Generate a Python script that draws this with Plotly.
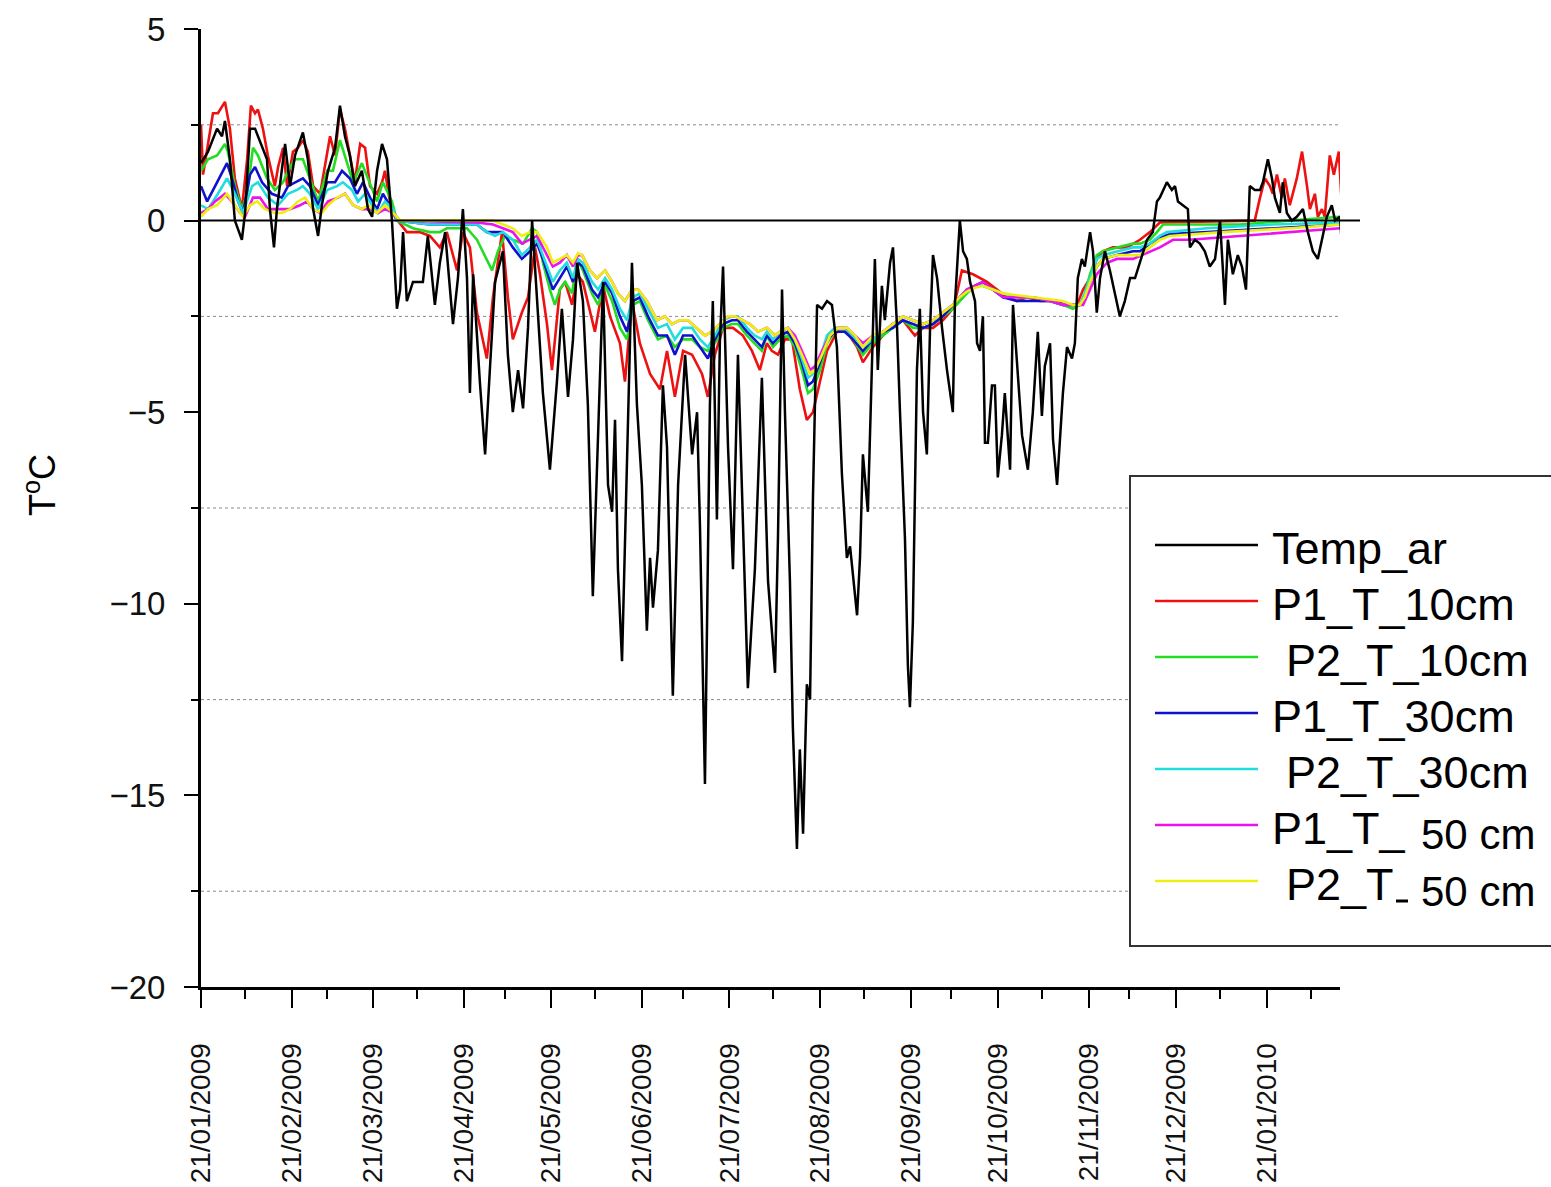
import pandas as pd
import plotly.graph_objects as go

START = pd.Timestamp("2009-01-21")

# ---- Air temperature (day offset from 21/01/2009, degC) ----
AIR_DAYS = [0, 2.4, 5.5, 7.2, 8.2, 9.9, 11.6, 14.0, 15.1, 16.8, 18.5, 20.9, 22.6, 23.6, 25.0, 26.0,
            27.7, 28.8, 30.5, 32.2, 34.9, 36.6, 38.4, 40.1, 41.4, 43.5, 45.9, 47.6, 49.3, 51.0, 52.7,
            55.1, 57.2, 58.6, 60.3, 62.0, 63.7, 65.4, 67.1, 68.2, 69.2, 70.5, 72.6, 76.0, 77.7, 80.1,
            81.8, 83.6, 86.3, 88.0, 89.7, 91.1, 92.1, 93.2, 95.5, 97.3, 99.0, 100.7, 103.4, 105.1,
            106.8, 108.6, 110.3, 112.0, 113.4, 115.1, 117.1, 119.5, 121.9, 123.6, 125.7, 127.4, 128.8,
            130.8, 132.5, 134.2, 136.0, 137.7, 139.4, 140.8, 141.8, 142.8, 144.2, 145.9, 147.6, 149.3,
            151.0, 152.7, 153.8, 154.8, 156.5, 158.2, 159.6, 161.6, 163.4, 165.8, 168.2, 169.9, 170.9,
            172.6, 174.3, 175.3, 176.7, 177.7, 178.8, 180.5, 182.2, 183.9, 185.6, 187.3, 189.7, 192.1,
            194.2, 196.6, 197.6, 199.0, 200.0, 201.7, 202.7, 204.1, 205.1, 206.2, 207.5, 208.6, 209.6,
            211.0, 212.7, 214.4, 216.1, 217.8, 219.5, 221.2, 222.3, 224.7, 225.7, 226.7, 228.4, 229.8,
            230.8, 231.8, 233.2, 234.2, 236.0, 237.0, 238.4, 239.4, 241.1, 242.1, 242.8, 243.8, 245.2,
            246.2, 247.3, 248.6, 249.7, 250.7, 252.1, 253.8, 255.5, 257.5, 258.2, 259.9, 261.0, 262.3,
            263.4, 265.1, 265.8, 266.8, 267.8, 268.5, 269.5, 270.9, 271.9, 272.9, 274.3, 275.3, 277.1,
            278.1, 279.5, 281.2, 283.2, 284.9, 286.6, 288.0, 289.0, 290.8, 291.8, 293.2, 294.2, 295.2,
            296.6, 298.3, 299.3, 300.3, 301.7, 302.7, 304.5, 305.5, 306.8, 307.9, 309.6, 311.3, 313.0,
            314.7, 316.4, 318.2, 319.9, 321.6, 324.0, 326.0, 327.4, 328.4, 330.8, 332.5, 333.6, 334.6,
            336.3, 338.0, 338.7, 340.4, 342.1, 343.8, 345.5, 347.3, 349.0, 350.7, 351.7, 353.4, 355.1,
            356.5, 357.9, 359.2, 360.9, 362.7, 363.7, 365.4, 366.8, 367.8, 369.5, 370.5, 371.9, 373.6,
            375.3, 377.4, 379.1, 380.8, 382.5, 383.9, 385.6, 387.3, 388.4, 390.1, 390.8]
TEMP_AR = [1.5, 1.8, 2.4, 2.2, 2.6, 1.6, 0.0, -0.5, 0.2, 2.4, 2.4, 1.9, 1.6, 0.3, -0.7, 0.3,
           1.3, 2.0, 0.9, 1.7, 2.3, 1.6, 0.3, -0.4, 0.4, 1.3, 1.9, 3.0, 2.2, 1.7, 0.9,
           1.3, 0.3, 0.1, 1.3, 2.0, 1.6, 0.0, -2.3, -1.8, -0.3, -2.1, -1.6, -1.6, -0.4, -2.2,
           -1.1, -0.3, -2.7, -1.5, 0.3, -1.5, -4.5, -1.4, -4.2, -6.1, -3.8, -1.6, -0.8, -3.5,
           -5.0, -3.9, -4.9, -2.8, 0.0, -2.0, -4.5, -6.5, -4.2, -2.3, -4.6, -3.1, -1.1,
           -2.1, -4.8, -9.8, -5.3, -1.6, -6.9, -7.6, -5.2, -9.1, -11.5, -5.9, -1.1, -4.8,
           -6.9, -10.7, -8.8, -10.1, -8.6, -4.3, -5.9, -12.4, -6.9, -3.5, -6.1, -5.0, -8.0,
           -14.7, -4.8, -2.1, -7.8, -3.2, -1.2, -5.9, -9.1, -3.5, -8.0, -12.2, -9.1, -4.1,
           -9.4, -11.8, -8.3, -1.8, -5.0, -9.4, -13.2, -16.4, -13.8, -16.0, -12.1, -12.5, -7.2,
           -2.2, -2.3, -2.1, -2.2, -3.3, -6.6, -8.8, -8.5, -10.3, -8.8, -6.1, -7.6, -3.9,
           -1.0, -3.9, -1.7, -2.6, -1.1, -0.7, -2.8, -5.0, -8.3, -11.6, -12.7, -10.5, -3.9,
           -2.3, -5.0, -6.1, -2.8, -0.9, -1.5, -2.8, -3.9, -5.0, -2.2, 0.0, -0.8, -1.0,
           -1.6, -2.1, -3.2, -3.4, -2.5, -5.8, -5.8, -4.3, -4.3, -6.7, -5.6, -4.5, -6.5,
           -2.2, -3.8, -5.6, -6.5, -5.0, -2.9, -5.1, -3.8, -3.2, -5.7, -6.9, -5.7, -4.5,
           -3.3, -3.6, -3.2, -1.5, -1.0, -1.2, -0.3, -0.8, -2.4, -1.5, -0.8, -1.3, -1.9,
           -2.5, -2.1, -1.5, -1.5, -1.1, -0.5, -0.3, 0.5, 0.6, 1.0, 0.8, 0.9, 0.5,
           0.4, 0.3, -0.7, -0.5, -0.6, -0.8, -1.2, -1.0, 0.0, -2.2, -0.5, -1.4, -0.9,
           -1.2, -1.8, 0.9, 0.8, 0.8, 1.0, 1.6, 1.1, 0.6, 0.2, 1.0, 0.2, 0.0,
           0.1, 0.3, -0.3, -0.8, -1.0, -0.5, 0.1, 0.4, 0.0, 0.1, -0.7]

# ---- Profile 1, 10 cm ----
P1_10_DAYS = [0, 0.7, 2.4, 4.1, 5.8, 8.2, 9.9, 11.6, 14.0, 15.8, 17.1, 18.5, 19.5, 21.2, 22.9, 25.3,
              26.4, 28.1, 29.5, 31.5, 33.2, 34.9, 36.6, 38.4, 40.8, 43.2, 44.2, 45.9, 47.6, 49.3,
              51.0, 52.7, 54.5, 56.2, 57.9, 60.3, 62.0, 63.0, 64.7, 66.4, 70.5, 74.9, 78.4, 81.8,
              84.2, 87.7, 89.7, 92.1, 94.5, 97.9, 100.0, 103.1, 105.1, 106.8, 109.9, 112.0, 114.4,
              116.1, 118.5, 120.2, 122.9, 124.7, 127.1, 128.8, 130.8, 134.9, 137.7, 140.1, 143.5,
              145.2, 147.6, 150.3, 153.8, 157.2, 159.6, 162.3, 165.1, 168.2, 171.6, 173.6, 176.0,
              178.8, 182.2, 185.6, 188.7, 191.4, 193.8, 195.5, 197.6, 200.0, 202.4, 205.1, 207.5,
              209.6, 212.0, 214.4, 217.8, 221.2, 224.7, 226.7, 230.1, 233.6, 237.0, 240.4, 244.5,
              247.3, 250.7, 254.1, 257.5, 258.9, 260.6, 264.4, 269.2, 272.6, 276.0, 279.5, 282.9,
              287.3, 291.8, 296.6, 300.0, 302.1, 304.5, 306.8, 308.9, 312.3, 317.1, 321.6, 325.0,
              328.4, 344.5, 360.9, 362.7, 364.4, 366.1, 367.1, 368.5, 370.2, 371.2, 372.9, 375.3,
              377.1, 378.8, 379.8, 381.5, 382.5, 383.9, 384.9, 386.6, 388.0, 389.7, 390.8]
P1_T_10 = [2.5, 1.2, 2.0, 2.8, 2.8, 3.1, 2.4, 1.1, 0.3, 1.6, 3.0, 2.8, 2.9, 2.4, 1.7, 0.9,
           1.4, 1.9, 0.9, 1.8, 1.9, 2.1, 1.8, 0.9, 0.7, 1.7, 2.2, 1.7, 2.9, 2.4,
           1.7, 1.0, 2.0, 1.9, 0.9, 0.7, 1.0, 1.3, 0.5, 0.1, -0.3, -0.3, -0.4, -0.7,
           -0.3, -1.3, -0.3, -0.7, -2.4, -3.6, -2.0, -0.3, -2.0, -3.1, -2.4, -2.0, -0.7,
           -1.4, -2.7, -3.9, -1.8, -1.6, -2.2, -1.4, -1.6, -2.9, -1.7, -2.5, -3.2,
           -4.2, -2.1, -3.2, -4.0, -4.4, -3.4, -4.6, -3.4, -3.5, -4.0, -4.6, -3.5,
           -2.8, -2.8, -3.0, -3.4, -3.9, -3.2, -3.4, -3.5, -3.1, -3.1, -4.4, -5.2,
           -5.0, -4.2, -3.4, -2.9, -2.9, -3.3, -3.7, -3.3, -3.0, -2.7, -2.6, -3.0,
           -2.8, -2.8, -2.6, -2.3, -1.9, -1.3, -1.4, -1.6, -1.8, -2.0, -2.1, -2.0,
           -2.1, -2.1, -2.2, -2.2, -1.8, -1.5, -1.0, -0.8, -0.7, -0.7, -0.5, -0.3,
           -0.05, -0.02, 0.0, 0.6, 1.1, 0.9, 0.7, 1.2, 0.6, 1.1, 0.4, 1.1,
           1.8, 0.9, 0.3, 0.7, 0.1, 0.3, 0.1, 1.7, 1.2, 1.8, 0.3]

# ---- Profile 2, 10 cm ----
P2_10_DAYS = [0, 2.4, 5.5, 8.2, 9.2, 11.6, 14.0, 15.8, 17.8, 19.5, 22.6, 25.3, 28.1, 29.8, 32.2,
              34.9, 37.3, 40.1, 43.2, 45.2, 47.6, 49.3, 52.1, 55.1, 57.2, 60.3, 62.3, 65.4, 67.1,
              72.6, 78.4, 81.8, 84.2, 87.7, 91.1, 94.5, 97.9, 99.7, 101.7, 104.1, 106.8, 110.3,
              113.4, 115.1, 117.1, 119.5, 121.2, 122.9, 124.7, 127.1, 128.8, 130.8, 133.9, 136.0,
              138.4, 140.8, 143.5, 145.9, 147.9, 150.3, 153.1, 156.5, 159.6, 162.3, 165.1, 168.2,
              170.9, 173.6, 176.0, 178.8, 181.8, 183.9, 187.0, 189.7, 192.1, 193.8, 195.9, 198.3,
              201.0, 203.4, 205.8, 207.9, 209.6, 212.0, 214.4, 217.1, 220.5, 223.3, 226.7, 230.1,
              233.6, 237.0, 240.4, 243.8, 247.3, 250.7, 254.1, 257.5, 259.9, 262.3, 265.1, 267.8,
              271.2, 274.7, 279.5, 284.9, 290.8, 295.2, 298.6, 301.0, 302.7, 304.5, 306.8, 308.9,
              313.7, 319.2, 321.6, 325.0, 327.4, 329.5, 338.7, 355.8, 372.9, 390.1]
P2_T_10 = [1.3, 1.6, 1.7, 2.0, 1.8, 0.9, 0.3, 0.7, 1.9, 1.7, 1.1, 0.8, 1.0, 1.3, 1.6,
           1.6, 1.1, 0.5, 1.3, 1.3, 2.1, 1.7, 1.0, 1.5, 1.1, 0.5, 1.0, 0.5, 0.0,
           -0.2, -0.3, -0.3, -0.2, -0.2, -0.2, -0.5, -1.0, -1.3, -0.8, -0.4, -0.5, -0.6,
           -0.2, -0.3, -1.1, -1.8, -2.2, -1.8, -1.6, -1.9, -1.0, -1.3, -1.9, -2.2,
           -1.7, -2.1, -2.8, -3.1, -2.2, -2.1, -2.6, -3.1, -3.0, -3.3, -3.1, -3.1,
           -3.3, -3.4, -3.2, -2.8, -2.7, -2.7, -3.0, -3.2, -3.4, -3.0, -3.3, -3.1,
           -3.0, -3.3, -3.9, -4.5, -4.4, -3.9, -3.2, -2.9, -2.9, -3.1, -3.5, -3.2,
           -3.0, -2.8, -2.6, -2.8, -2.8, -2.7, -2.5, -2.3, -2.1, -1.9, -1.7, -1.7,
           -1.8, -2.0, -2.0, -2.0, -2.1, -2.2, -2.3, -2.2, -1.9, -1.4, -0.9, -0.8,
           -0.7, -0.6, -0.6, -0.5, -0.3, -0.1, -0.1, -0.1, 0.0, 0.1]

# ---- Profile 1, 30 cm ----
P1_30_DAYS = [0, 2.1, 5.5, 8.9, 10.6, 12.7, 14.4, 16.8, 18.5, 20.9, 24.3, 27.7, 29.8, 32.2, 34.9,
              37.3, 40.1, 43.2, 45.9, 48.3, 51.0, 53.4, 55.5, 57.9, 60.3, 62.3, 65.4, 67.1, 78.4,
              91.1, 94.5, 97.9, 101.4, 103.4, 106.8, 109.9, 112.7, 115.1, 117.1, 120.5, 122.9,
              125.3, 127.4, 129.1, 130.8, 133.9, 136.0, 138.4, 140.8, 143.5, 145.9, 147.9, 150.3,
              153.1, 156.5, 159.6, 162.3, 165.1, 168.2, 170.9, 173.6, 176.0, 178.8, 181.8, 183.9,
              187.0, 189.7, 192.1, 193.8, 195.9, 198.3, 201.0, 203.4, 205.8, 207.9, 209.6, 212.0,
              214.4, 217.1, 220.5, 223.3, 226.7, 230.1, 233.6, 237.0, 240.4, 243.8, 247.3, 250.7,
              254.1, 257.5, 259.9, 262.3, 265.1, 267.8, 271.2, 274.7, 279.5, 284.9, 290.8, 295.2,
              298.6, 301.0, 302.7, 304.5, 306.8, 308.9, 313.7, 319.2, 321.6, 325.0, 328.4, 331.8,
              344.5, 367.1, 390.1]
P1_T_30 = [0.9, 0.5, 1.0, 1.5, 1.1, 0.5, 0.2, 1.2, 1.4, 1.0, 0.7, 0.6, 0.9, 1.0, 1.1,
           0.9, 0.4, 1.0, 1.0, 1.3, 1.1, 0.7, 1.0, 0.6, 0.3, 0.7, 0.3, 0.0, -0.1,
           -0.1, -0.1, -0.3, -0.3, -0.3, -0.7, -1.0, -0.8, -0.6, -1.0, -1.8, -1.5,
           -1.2, -1.6, -1.1, -1.2, -1.8, -2.0, -1.6, -1.9, -2.5, -2.9, -2.1, -2.0,
           -2.5, -3.0, -3.0, -3.5, -3.0, -3.0, -3.3, -3.6, -3.1, -2.7, -2.6, -2.6,
           -2.9, -3.1, -3.3, -3.0, -3.2, -3.0, -2.9, -3.2, -3.7, -4.3, -4.2, -3.7,
           -3.1, -2.9, -2.9, -3.1, -3.4, -3.1, -2.9, -2.8, -2.6, -2.7, -2.8, -2.7,
           -2.5, -2.2, -2.0, -1.8, -1.7, -1.6, -1.8, -2.0, -2.1, -2.1, -2.1, -2.2,
           -2.2, -2.2, -2.0, -1.6, -1.2, -1.0, -0.9, -0.8, -0.8, -0.6, -0.45, -0.35,
           -0.3, -0.2, -0.1]

# ---- Profile 2, 30 cm ----
P2_30_DAYS = [0, 2.4, 5.8, 8.9, 11.6, 14.4, 17.5, 19.5, 22.9, 26.4, 29.8, 32.9, 34.9, 37.3, 40.1,
              43.2, 46.6, 48.6, 51.7, 53.8, 56.2, 58.6, 60.6, 63.0, 65.8, 67.1, 78.4, 94.5, 97.9,
              100.7, 103.4, 106.8, 109.9, 112.7, 115.1, 117.1, 120.5, 122.9, 125.3, 127.4, 129.1,
              130.8, 133.9, 136.0, 138.4, 140.8, 143.5, 145.9, 147.9, 150.3, 153.1, 156.5, 159.6,
              162.3, 165.1, 168.2, 170.9, 173.6, 176.0, 178.8, 181.8, 183.9, 187.0, 189.7, 192.1,
              193.8, 195.9, 198.3, 201.0, 203.4, 205.8, 207.9, 209.6, 212.0, 214.4, 217.1, 220.5,
              223.3, 226.7, 230.1, 233.6, 237.0, 240.4, 243.8, 247.3, 250.7, 254.1, 257.5, 259.9,
              262.3, 265.1, 267.8, 271.2, 274.7, 279.5, 284.9, 290.8, 295.2, 298.6, 301.0, 302.7,
              304.5, 306.8, 308.9, 313.7, 319.2, 321.6, 325.0, 328.4, 330.8, 344.5, 367.1, 390.1]
P2_T_30 = [0.4, 0.3, 0.7, 1.1, 0.7, 0.2, 0.9, 1.0, 0.6, 0.4, 0.7, 0.8, 0.9, 0.7, 0.3,
           0.8, 0.9, 1.0, 0.8, 0.5, 0.7, 0.4, 0.2, 0.5, 0.3, 0.0, -0.1, -0.1, -0.3,
           -0.4, -0.3, -0.5, -0.9, -0.7, -0.5, -0.9, -1.6, -1.3, -1.1, -1.5, -1.0,
           -1.1, -1.6, -1.8, -1.5, -1.8, -2.3, -2.6, -2.0, -1.9, -2.3, -2.8, -2.7,
           -3.1, -2.8, -2.8, -3.1, -3.3, -3.0, -2.6, -2.5, -2.5, -2.8, -3.0, -3.1,
           -2.9, -3.1, -2.9, -2.8, -3.1, -3.6, -4.1, -4.0, -3.6, -3.0, -2.8, -2.8,
           -3.0, -3.3, -3.1, -2.9, -2.7, -2.5, -2.6, -2.7, -2.6, -2.4, -2.2, -2.0,
           -1.8, -1.7, -1.7, -1.8, -1.9, -2.0, -2.0, -2.1, -2.2, -2.2, -2.2, -1.9,
           -1.5, -1.0, -0.9, -0.8, -0.7, -0.7, -0.6, -0.4, -0.3, -0.2, -0.1, -0.05]

# ---- Profile 1, 50 cm ----
P1_50_DAYS = [0, 2.4, 4.8, 8.2, 10.6, 13.4, 15.1, 17.8, 20.2, 22.9, 26.4, 30.5, 33.9, 36.3, 38.4,
              40.8, 43.5, 46.9, 49.3, 52.1, 55.1, 57.9, 60.6, 63.0, 65.8, 68.2, 94.5, 100.0, 103.4,
              106.8, 109.9, 112.7, 115.1, 117.8, 120.5, 122.9, 125.3, 127.4, 129.1, 130.5, 133.2,
              135.6, 138.4, 140.8, 142.8, 145.2, 147.6, 149.7, 152.7, 156.2, 158.9, 161.3, 164.0,
              166.8, 169.9, 172.6, 175.0, 177.7, 180.5, 182.9, 185.3, 188.0, 190.8, 193.8, 196.6,
              198.3, 201.0, 203.4, 205.8, 208.6, 210.3, 212.7, 215.4, 218.2, 221.2, 224.0, 226.7,
              230.1, 233.6, 237.0, 240.4, 243.8, 247.3, 250.7, 254.1, 257.5, 259.9, 262.3, 265.1,
              267.8, 271.2, 274.7, 279.5, 284.9, 290.8, 295.2, 298.6, 302.1, 304.5, 306.8, 310.3,
              313.7, 319.2, 325.0, 328.4, 332.9, 338.7, 355.8, 372.9, 390.1]
P1_T_50 = [0.2, 0.3, 0.5, 0.7, 0.5, 0.2, 0.1, 0.6, 0.6, 0.3, 0.3, 0.3, 0.4, 0.5, 0.3,
           0.2, 0.5, 0.6, 0.7, 0.4, 0.3, 0.3, 0.2, 0.3, 0.2, 0.0, -0.05, -0.1, -0.2,
           -0.3, -0.6, -0.5, -0.4, -0.8, -1.2, -1.1, -0.9, -1.2, -0.9, -0.9, -1.3,
           -1.5, -1.3, -1.6, -1.9, -2.1, -1.8, -1.8, -2.1, -2.6, -2.5, -2.7, -2.6,
           -2.6, -2.8, -3.0, -2.9, -2.7, -2.5, -2.5, -2.6, -2.7, -2.9, -2.8, -3.0,
           -2.9, -2.8, -3.0, -3.4, -3.9, -3.8, -3.4, -3.0, -2.8, -2.8, -3.0, -3.2,
           -3.0, -2.9, -2.7, -2.5, -2.6, -2.7, -2.6, -2.4, -2.2, -2.0, -1.8, -1.7,
           -1.6, -1.8, -2.0, -2.0, -2.0, -2.1, -2.2, -2.2, -2.2, -1.8, -1.4, -1.1,
           -1.0, -1.0, -0.8, -0.7, -0.5, -0.5, -0.4, -0.3, -0.2]

# ---- Profile 2, 50 cm ----
P2_50_DAYS = [0, 2.4, 5.5, 8.9, 11.6, 14.4, 16.8, 19.2, 21.9, 25.3, 27.7, 30.5, 33.2, 35.6, 38.4,
              41.4, 43.5, 46.6, 49.3, 52.1, 55.1, 57.2, 60.3, 63.0, 65.8, 68.2, 100.0, 106.8,
              109.9, 112.7, 115.1, 118.5, 120.5, 122.9, 125.3, 127.4, 129.1, 130.5, 133.2, 135.6,
              138.4, 140.8, 142.8, 145.2, 147.6, 149.7, 152.7, 156.2, 158.9, 161.3, 164.0, 166.8,
              169.9, 172.6, 175.0, 177.7, 180.5, 182.9, 185.3, 188.0, 190.8, 193.8, 196.6, 198.3,
              201.0, 203.4, 205.8, 208.6, 210.3, 212.7, 215.4, 218.2, 221.2, 224.0, 226.7, 230.1,
              233.6, 237.0, 240.4, 243.8, 247.3, 250.7, 254.1, 257.5, 259.9, 262.3, 265.1, 267.8,
              271.2, 274.7, 279.5, 284.9, 290.8, 295.2, 298.6, 301.0, 302.7, 304.5, 306.8, 308.9,
              313.7, 319.2, 321.6, 328.4, 331.8, 350.0, 372.9, 390.1]
P2_T_50 = [0.1, 0.3, 0.4, 0.7, 0.4, 0.1, 0.4, 0.5, 0.3, 0.2, 0.2, 0.3, 0.5, 0.6, 0.3,
           0.2, 0.4, 0.6, 0.7, 0.4, 0.3, 0.4, 0.2, 0.4, 0.2, 0.0, 0.0, -0.2,
           -0.4, -0.3, -0.3, -0.7, -1.1, -1.0, -0.9, -1.1, -0.85, -0.9, -1.3, -1.5,
           -1.3, -1.6, -1.9, -2.1, -1.8, -1.8, -2.1, -2.6, -2.5, -2.7, -2.6, -2.6,
           -2.8, -3.0, -2.9, -2.7, -2.5, -2.5, -2.6, -2.7, -2.9, -2.8, -3.0, -2.9,
           -2.8, -3.1, -3.5, -4.0, -3.9, -3.5, -3.0, -2.8, -2.8, -3.0, -3.3, -3.0,
           -2.9, -2.7, -2.5, -2.6, -2.7, -2.6, -2.4, -2.2, -2.0, -1.85, -1.75, -1.7,
           -1.8, -1.9, -1.95, -2.0, -2.05, -2.1, -2.2, -2.2, -2.0, -1.6, -1.2, -1.0,
           -0.9, -0.9, -0.9, -0.5, -0.4, -0.3, -0.2, -0.1]

# label = (prefix, depth suffix drawn separately or None)
SERIES = [
    (("P1_T_10cm", None), P1_10_DAYS, P1_T_10, "#ee1111"),
    (("P2_T_10cm", None), P2_10_DAYS, P2_T_10, "#22dd22"),
    (("P1_T_30cm", None), P1_30_DAYS, P1_T_30, "#1111cc"),
    (("P2_T_30cm", None), P2_30_DAYS, P2_T_30, "#22dddd"),
    (("P1_T_", "50 cm"), P1_50_DAYS, P1_T_50, "#ee11ee"),
    (("P2_T", "50 cm"), P2_50_DAYS, P2_T_50, "#eeee11"),
]
LEGEND_ORDER = [(("Temp_ar", None), "#000000")] + [(s[0], s[3]) for s in SERIES]

Y_TICKS = [-20, -15, -10, -5, 0, 5]
Y_TICK_TEXT = ["\u221220", "\u221215", "\u221210", "\u22125", "0", "5"]
X_END_DAYS = 390.1
FONT = "Arial, Liberation Sans, sans-serif"


def to_dates(days):
    return [START + pd.Timedelta(days=d) for d in days]


fig = go.Figure()
for (prefix, suffix), days, vals, color in SERIES:
    fig.add_trace(go.Scatter(x=to_dates(days), y=vals, mode="lines",
                             name=prefix + (suffix or ""),
                             line=dict(color=color, width=2.6), showlegend=False))
fig.add_trace(go.Scatter(x=to_dates(AIR_DAYS), y=TEMP_AR, mode="lines", name="Temp_ar",
                         line=dict(color="#000000", width=2.5), showlegend=False))

shapes = []
# dotted reference lines at the half-steps
for yv in [2.5, -2.5, -7.5, -12.5, -17.5]:
    shapes.append(dict(type="line", xref="paper", yref="y", x0=0, x1=1, y0=yv, y1=yv,
                       line=dict(color="#8a8a8a", width=1, dash="dot"), layer="below"))
# zero line
shapes.append(dict(type="line", xref="paper", yref="y", x0=0, x1=1.0176, y0=0, y1=0,
                   line=dict(color="#000000", width=2), layer="above"))

# legend box drawn by hand
PX0, PY0, PW, PH = 201, 29, 1139, 958


def px(xp):
    return (xp - PX0) / PW


def py(yp):
    return (PY0 + PH - yp) / PH


shapes.append(dict(type="rect", xref="paper", yref="paper", x0=px(1130), x1=px(1560),
                   y0=py(946), y1=py(476), line=dict(color="#333333", width=2),
                   fillcolor="white", layer="above"))

annotations = []
indented = {2, 4, 6}
for i, ((prefix, suffix), color) in enumerate(LEGEND_ORDER):
    yl = 545 + 56 * i
    shapes.append(dict(type="line", xref="paper", yref="paper", x0=px(1155), x1=px(1258),
                       y0=py(yl), y1=py(yl), line=dict(color=color, width=2.5), layer="above"))
    annotations.append(dict(xref="paper", yref="paper", x=px(1284 if i in indented else 1270),
                            y=py(yl + 3), text=prefix, showarrow=False,
                            xanchor="left", yanchor="middle",
                            font=dict(family=FONT, size=45, color="black")))
    if suffix:
        annotations.append(dict(xref="paper", yref="paper", x=px(1419), y=py(yl + 10),
                                text=suffix, showarrow=False, xanchor="left", yanchor="middle",
                                font=dict(family=FONT, size=42, color="black")))
# short dash that joins "P2_T" and its depth
shapes.append(dict(type="line", xref="paper", yref="paper", x0=px(1396), x1=px(1408),
                   y0=py(901), y1=py(901), line=dict(color="black", width=3), layer="above"))

annotations.append(dict(xref="paper", yref="paper", x=px(40), y=py(485), text="T<sup>o</sup>C",
                        textangle=-90, showarrow=False, xanchor="center", yanchor="middle",
                        font=dict(family=FONT, size=36, color="black")))

fig.update_layout(
    width=1551, height=1187,
    margin=dict(l=201, r=211, t=29, b=200, pad=0, autoexpand=False),
    paper_bgcolor="white", plot_bgcolor="white",
    shapes=shapes, annotations=annotations,
    showlegend=False,
    xaxis=dict(
        type="date", automargin=False,
        range=[START, START + pd.Timedelta(days=X_END_DAYS)],
        tick0=START, dtick="M1", tickformat="%d/%m/%Y", tickangle=-90,
        ticks="outside", ticklen=18, tickwidth=2, tickcolor="black",
        showline=True, linewidth=3, linecolor="black",
        showgrid=False, zeroline=False,
        tickfont=dict(family=FONT, size=28, color="#111111"),
        ticklabelstandoff=24,
        minor=dict(ticks="outside", ticklen=9, tickwidth=2, tickcolor="black",
                   tick0="2009-02-05", dtick="M1", showgrid=False),
    ),
    yaxis=dict(
        automargin=False,
        range=[-20, 5], tickvals=Y_TICKS, ticktext=Y_TICK_TEXT,
        ticks="outside", ticklen=14, tickwidth=2, tickcolor="black",
        showline=True, linewidth=3, linecolor="black",
        showgrid=False, zeroline=False,
        tickfont=dict(family=FONT, size=33, color="#111111"),
        ticklabelstandoff=12,
        minor=dict(ticks="outside", ticklen=7, tickwidth=2, tickcolor="black",
                   tickvals=[2.5, -2.5, -7.5, -12.5, -17.5], showgrid=False),
    ),
)

fig.write_html("out.html")
